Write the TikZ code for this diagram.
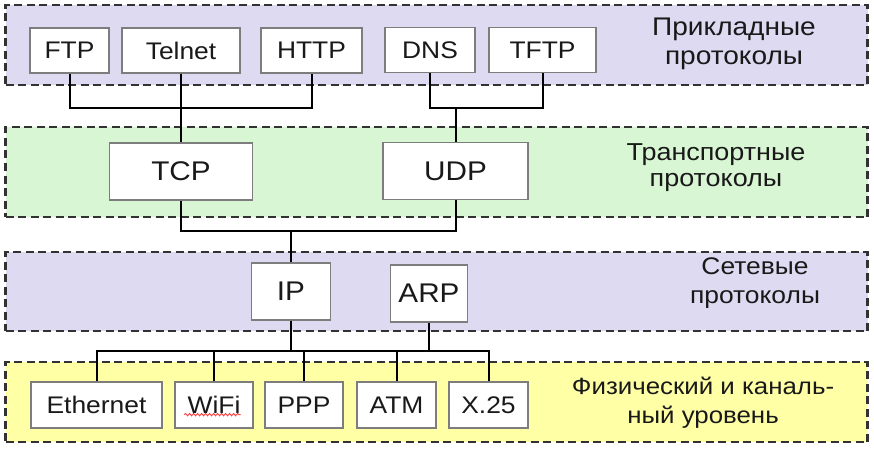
\documentclass[tikz,border=0pt]{standalone}
\usepackage{fontspec}
\setmainfont{Liberation Sans}[FakeStretch=1.1]
\usetikzlibrary{decorations.pathmorphing}
\definecolor{lav}{RGB}{221,218,241}
\definecolor{mint}{RGB}{216,246,211}
\definecolor{lemon}{RGB}{255,255,166}
\definecolor{ink}{RGB}{25,25,25}
\definecolor{dashc}{RGB}{50,50,50}
\definecolor{boxc}{RGB}{125,125,125}
\begin{document}
\begin{tikzpicture}[x=1pt,y=-1pt,
  layer/.style={draw=dashc, line width=2.4pt, dash pattern=on 8pt off 4.5pt, minimum width=862pt, inner sep=0pt},
  proto/.style={draw=boxc, line width=1.3pt, fill=white, inner sep=0pt, text=ink},
  smallbox/.style={proto, font=\fontsize{24}{28}\selectfont, minimum height=45pt},
  bigbox/.style={proto, font=\fontsize{27}{31}\selectfont, minimum height=57pt},
  lbl/.style={align=center, text=ink, inner sep=0pt, anchor=north, font=\fontsize{24}{28.5}\selectfont},
  wire/.style={draw=black, line width=2pt}]
\useasboundingbox (0,0) rectangle (874,449);
% layers
\node[layer, fill=lav, minimum height=80pt] (L1) at (436.5,45) {};
\node[layer, fill=mint, minimum height=90pt] (L2) at (436.5,172) {};
\node[layer, fill=lav, minimum height=79pt] (L3) at (436.5,291.5) {};
\node[layer, fill=lemon, minimum height=80pt] (L4) at (436.5,402) {};
% layer labels
\node[lbl, font=\fontsize{25.5}{28.5}\selectfont] (t1) at (734,18) {Прикладные\\протоколы};
\node[lbl, font=\fontsize{24.5}{26}\selectfont] (t2) at (716,143) {Транспортные\\протоколы};
\node[lbl] (t3) at (755,258) {Сетевые\\протоколы};
\node[lbl, font=\fontsize{23.5}{29}\selectfont] (t4) at (703,377) {Физический и каналь-\\ный уровень};
% protocol boxes
\node[smallbox, minimum width=79pt] (FTP) at (69.5,50.5) {FTP};
\node[smallbox, minimum width=118pt] (Telnet) at (181,50.5) {Telnet};
\node[smallbox, minimum width=101pt] (HTTP) at (311.5,50.5) {HTTP};
\node[smallbox, minimum width=90pt] (DNS) at (430,50) {DNS};
\node[smallbox, minimum width=107pt] (TFTP) at (542.5,50) {TFTP};
\node[bigbox, minimum width=143pt] (TCP) at (181,171.5) {TCP};
\node[bigbox, minimum width=145pt] (UDP) at (455.5,171) {UDP};
\node[bigbox, minimum width=79pt] (IP) at (291,291.5) {IP};
\node[bigbox, minimum width=77pt] (ARP) at (429,293.5) {ARP};
\node[smallbox, minimum width=131pt, minimum height=46pt] (Ethernet) at (96.5,405) {Ethernet};
\node[smallbox, minimum width=78pt, minimum height=46pt] (WiFi) at (214,405) {WiFi};
\node[smallbox, minimum width=78pt, minimum height=46pt] (PPP) at (304,405) {PPP};
\node[smallbox, minimum width=79pt, minimum height=46pt] (ATM) at (396.5,405) {ATM};
\node[smallbox, minimum width=79pt, minimum height=46pt] (X25) at (488.5,405) {X.25};
% junctions
\coordinate (a) at (181,108);
\coordinate (b) at (455.5,108);
\coordinate (c) at (291,231);
\coordinate (d) at (291,351);
% wires
\draw[wire] (FTP.south) |- (a) -| (HTTP.south);
\draw[wire] (Telnet.south) -- (TCP.north);
\draw[wire] (DNS.south) |- (b) -| (TFTP.south);
\draw[wire] (b) -- (UDP.north);
\draw[wire] (TCP.south) |- (c) -| (UDP.south);
\draw[wire] (c) -- (IP.north);
\draw[wire] (Ethernet.north) |- (d) -| (X25.north);
\draw[wire] (IP.south) -- (d);
\draw[wire] (ARP.south) -- (ARP.south |- d);
\draw[wire] (WiFi.north) -- (WiFi.north |- d);
\draw[wire] (PPP.north) -- (PPP.north |- d);
\draw[wire] (ATM.north) -- (ATM.north |- d);
% spell-check underline
\draw[red!75!white, line width=0.9pt, decorate, decoration={snake, amplitude=1.2pt, segment length=4pt}]
  ([xshift=10pt,yshift=14pt]WiFi.south west) -- ([xshift=-13pt,yshift=14pt]WiFi.south east);
\end{tikzpicture}
\end{document}
